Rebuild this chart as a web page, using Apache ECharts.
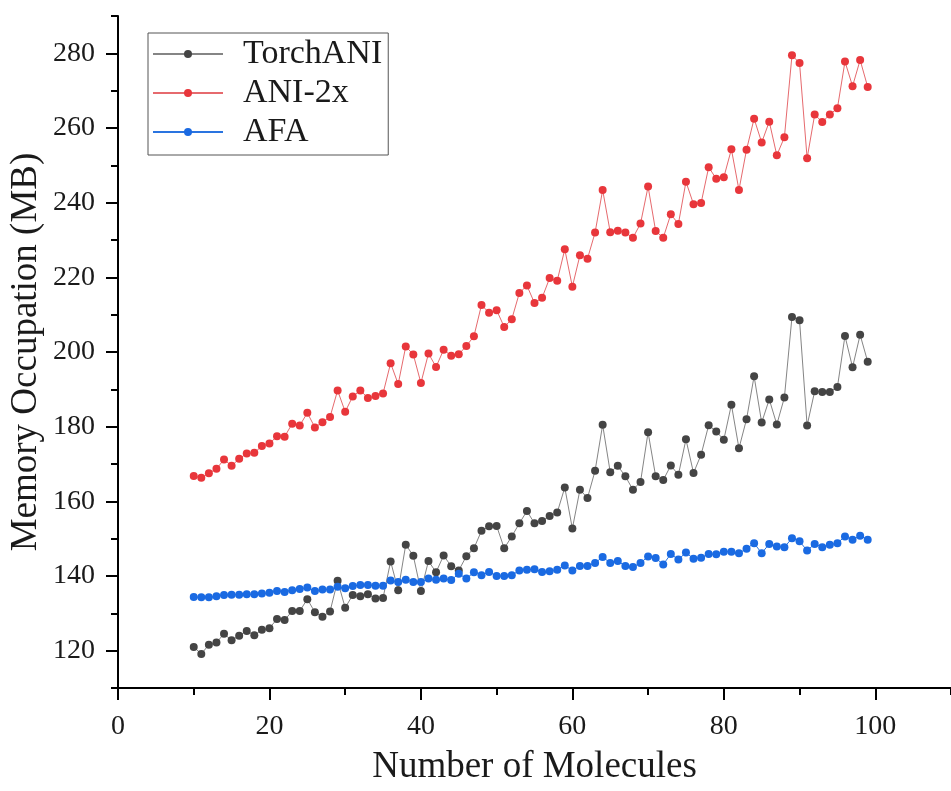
<!DOCTYPE html>
<html>
<head>
<meta charset="utf-8">
<style>
    html, body { margin: 0; padding: 0; background: #fff; }
    #chart { width: 951px; height: 791px; }
</style>
<script src="https://cdn.jsdelivr.net/npm/echarts@6/dist/echarts.min.js"></script>
</head>
<body>
<div id="chart"></div>
<script>
    // number of molecules (x)
    var molecules = [10, 11, 12, 13, 14, 15, 16, 17, 18, 19,
        20, 21, 22, 23, 24, 25, 26, 27, 28, 29,
        30, 31, 32, 33, 34, 35, 36, 37, 38, 39,
        40, 41, 42, 43, 44, 45, 46, 47, 48, 49,
        50, 51, 52, 53, 54, 55, 56, 57, 58, 59,
        60, 61, 62, 63, 64, 65, 66, 67, 68, 69,
        70, 71, 72, 73, 74, 75, 76, 77, 78, 79,
        80, 81, 82, 83, 84, 85, 86, 87, 88, 89,
        90, 91, 92, 93, 94, 95, 96, 97, 98, 99];

    var torchANI = [121.0, 119.1, 121.6, 122.2, 124.5, 122.8, 124.0, 125.3, 124.1, 125.6,
        126.0, 128.5, 128.2, 130.6, 130.6, 133.8, 130.3, 129.1, 130.5, 138.7,
        131.5, 134.9, 134.6, 135.1, 134.0, 134.1, 143.9, 136.2, 148.4, 145.4,
        136.0, 144.0, 141.0, 145.5, 142.6, 141.5, 145.3, 147.4, 152.1, 153.3,
        153.4, 147.4, 150.6, 154.1, 157.4, 154.1, 154.7, 156.1, 157.0, 163.7,
        152.7, 163.1, 160.9, 168.2, 180.5, 167.8, 169.5, 166.7, 163.1, 165.2,
        178.5, 166.7, 165.7, 169.6, 167.1, 176.6, 167.6, 172.5, 180.4, 178.7,
        176.5, 185.9, 174.2, 182.0, 193.5, 181.1, 187.3, 180.6, 187.8, 209.4,
        208.5, 180.3, 189.5, 189.3, 189.3, 190.6, 204.3, 195.9, 204.6, 197.4];

    var ani2x = [166.8, 166.3, 167.5, 168.7, 171.2, 169.5, 171.4, 172.8, 173.0, 174.8,
        175.5, 177.4, 177.3, 180.8, 180.3, 183.7, 179.8, 181.2, 182.6, 189.7,
        184.0, 188.1, 189.7, 187.7, 188.2, 188.9, 197.0, 191.4, 201.5, 199.3,
        191.7, 199.6, 196.0, 200.6, 199.0, 199.4, 201.6, 204.2, 212.6, 210.5,
        211.2, 206.7, 208.8, 215.8, 217.8, 213.1, 214.5, 219.8, 219.1, 227.5,
        217.5, 225.9, 225.0, 232.0, 243.4, 232.1, 232.5, 232.0, 230.6, 234.4,
        244.3, 232.4, 230.6, 236.9, 234.3, 245.6, 239.6, 239.9, 249.5, 246.4,
        246.8, 254.3, 243.4, 254.2, 262.5, 256.1, 261.7, 252.7, 257.5, 279.5,
        277.4, 251.9, 263.6, 261.6, 263.6, 265.3, 277.8, 271.2, 278.2, 271.0];

    var afa = [134.4, 134.3, 134.3, 134.6, 134.9, 135.0, 135.0, 135.1, 135.1, 135.3,
        135.5, 136.0, 135.7, 136.2, 136.5, 136.9, 136.0, 136.4, 136.4, 137.1,
        136.7, 137.3, 137.6, 137.6, 137.4, 137.4, 138.8, 138.4, 139.0, 138.4,
        138.4, 139.3, 139.0, 139.3, 138.9, 140.6, 139.3, 141.0, 140.2, 141.1,
        140.0, 140.0, 140.2, 141.5, 141.7, 141.8, 141.1, 141.3, 141.7, 142.8,
        141.5, 142.7, 142.7, 143.5, 145.1, 143.5, 144.0, 142.7, 142.4, 143.5,
        145.2, 144.8, 143.1, 145.9, 144.4, 146.3, 144.6, 144.9, 145.9, 145.8,
        146.5, 146.5, 146.1, 147.3, 148.8, 146.1, 148.6, 147.9, 147.7, 150.1,
        149.3, 146.8, 148.6, 147.7, 148.4, 148.8, 150.6, 149.7, 150.8, 149.7];

    var xMajorTicks = [0, 20, 40, 60, 80, 100];
    var yMajorTicks = [120, 140, 160, 180, 200, 220, 240, 260, 280];

    var FONT = 'Liberation Serif';
    var INK = '#1a1a1a';

    function pairs(values) {
        return molecules.map(function (m, i) {
            return [m, values[i]];
        });
    }

    function lineSeries(name, values, lineColor, dotColor) {
        return {
            name: name,
            type: 'line',
            data: pairs(values),
            symbol: 'circle',
            symbolSize: 8,
            showAllSymbol: true,
            lineStyle: { color: lineColor, width: 1 },
            itemStyle: { color: dotColor },
            emphasis: { disabled: true },
            animation: false
        };
    }

    var chart = echarts.init(document.getElementById('chart'));

    var option = {
        backgroundColor: '#fff',
        animation: false,
        grid: {
            left: 118,
            top: 16,
            width: 842,
            height: 680,
            containLabel: false
        },
        legend: {
            orient: 'vertical',
            left: 148,
            top: 33,
            padding: [4, 6, 6, 4],
            itemWidth: 70,
            itemHeight: 10,
            itemGap: 5,
            borderColor: '#555',
            borderWidth: 1,
            textStyle: {
                fontFamily: FONT,
                fontSize: 34,
                lineHeight: 34,
                color: INK,
                padding: [0, 0, 0, 15]
            },
            data: ['TorchANI', 'ANI-2x', 'AFA']
        },
        xAxis: [
            {
                type: 'value',
                min: 0,
                max: 110,
                interval: 10,
                name: 'Number of Molecules',
                nameLocation: 'middle',
                nameGap: 61,
                nameTextStyle: { fontFamily: FONT, fontSize: 37, color: INK },
                axisLine: { show: true, lineStyle: { color: '#000', width: 2 } },
                axisTick: { show: true, length: 7, lineStyle: { color: '#000', width: 2 } },
                axisLabel: { show: false },
                splitLine: { show: false }
            },
            {
                type: 'value',
                min: 0,
                max: 110,
                interval: 10,
                position: 'bottom',
                axisLine: { show: false },
                axisTick: {
                    show: true,
                    length: 12,
                    customValues: xMajorTicks,
                    lineStyle: { color: '#000', width: 2 }
                },
                axisLabel: {
                    show: true,
                    customValues: xMajorTicks,
                    margin: 25,
                    fontFamily: FONT,
                    fontSize: 28,
                    color: INK
                },
                splitLine: { show: false }
            }
        ],
        yAxis: [
            {
                type: 'value',
                min: 110,
                max: 290,
                interval: 10,
                name: 'Memory Occupation (MB)',
                nameLocation: 'middle',
                nameGap: 73,
                nameRotate: 90,
                nameTextStyle: { fontFamily: FONT, fontSize: 37, color: INK },
                axisLine: { show: true, lineStyle: { color: '#000', width: 2 } },
                axisTick: { show: true, length: 7, lineStyle: { color: '#000', width: 2 } },
                axisLabel: { show: false },
                splitLine: { show: false }
            },
            {
                type: 'value',
                min: 110,
                max: 290,
                interval: 10,
                position: 'left',
                axisLine: { show: false },
                axisTick: {
                    show: true,
                    length: 12,
                    customValues: yMajorTicks,
                    lineStyle: { color: '#000', width: 2 }
                },
                axisLabel: {
                    show: true,
                    customValues: yMajorTicks,
                    margin: 23,
                    fontFamily: FONT,
                    fontSize: 28,
                    color: INK
                },
                splitLine: { show: false }
            }
        ],
        series: [
            lineSeries('TorchANI', torchANI, '#858585', '#444444'),
            lineSeries('ANI-2x', ani2x, '#e66a6e', '#e8363b'),
            lineSeries('AFA', afa, '#2a74e0', '#1a6ae2')
        ]
    };

    chart.setOption(option);
</script>
</body>
</html>
